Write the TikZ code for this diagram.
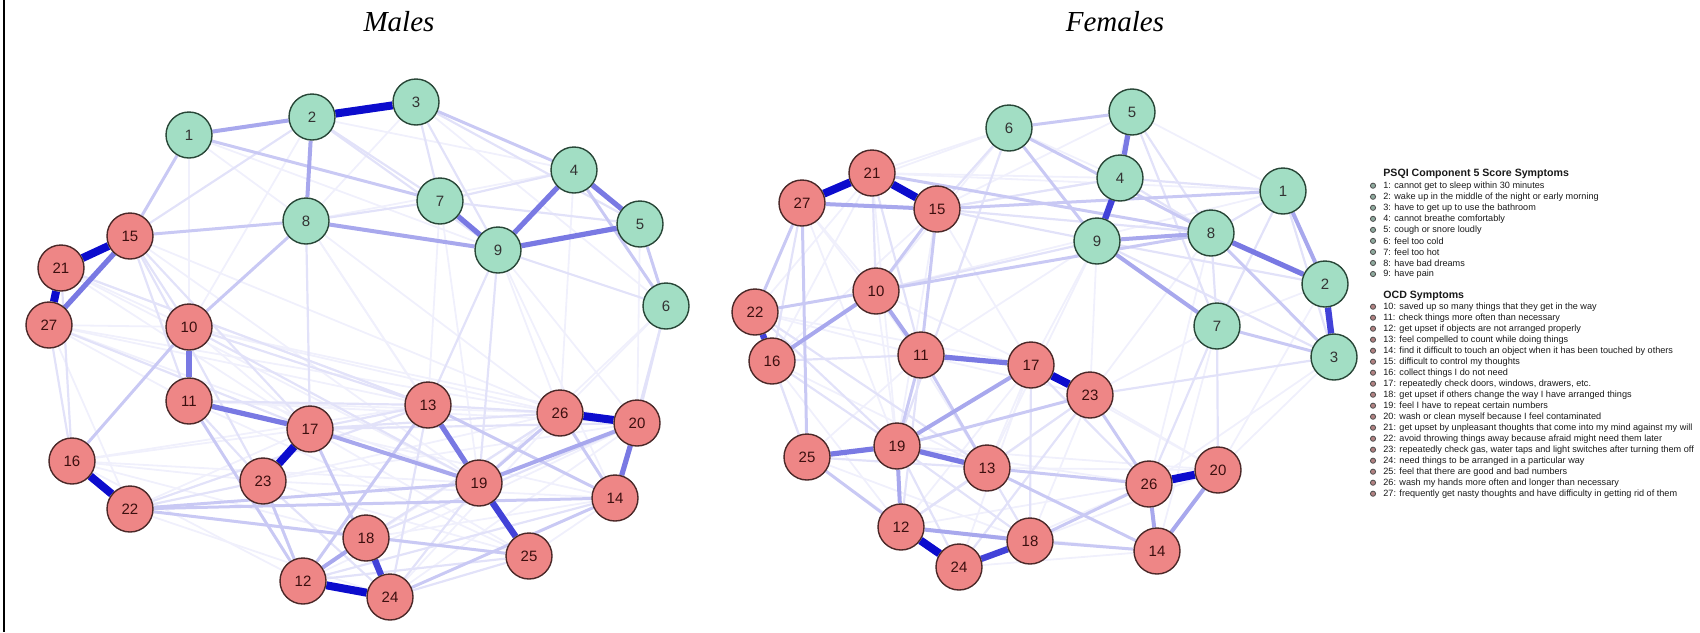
\documentclass[tikz,border=0pt]{standalone}
\usepackage{fontspec}
\setmainfont{Liberation Sans}
\newfontfamily\titlefont{Liberation Serif}
\usetikzlibrary{calc}
\definecolor{psqifill}{RGB}{162,222,196}
\definecolor{psqiline}{RGB}{40,70,55}
\definecolor{ocdfill}{RGB}{238,134,134}
\definecolor{ocdline}{RGB}{75,40,40}
\definecolor{ocdtext}{RGB}{60,15,15}
\definecolor{edgecol}{RGB}{12,12,205}
\pgfdeclarelayer{background}
\pgfsetlayers{background,main}

\begin{document}
\begin{tikzpicture}[x=0.5pt,y=-0.5pt,
    psqi/.style={circle,draw=psqiline,fill=psqifill,line width=0.7pt,minimum size=23pt,inner sep=0pt,text=black!80,font=\fontsize{7.5}{8}\selectfont},
    ocd/.style={circle,draw=ocdline,fill=ocdfill,line width=0.7pt,minimum size=23pt,inner sep=0pt,text=ocdtext,font=\fontsize{7.5}{8}\selectfont},
    w0/.style={line width=0.9pt,edgecol!6!white},
    w1/.style={line width=1.1pt,edgecol!12!white},
    w2/.style={line width=1.5pt,edgecol!22!white},
    w3/.style={line width=2pt,edgecol!36!white},
    w4/.style={line width=2.6pt,edgecol!55!white},
    w5/.style={line width=3.2pt,edgecol!78!white},
    w6/.style={line width=4pt,edgecol},
    title/.style={font=\titlefont\itshape\fontsize{14.5}{17}\selectfont},
    leg/.style={anchor=west,inner sep=0pt,text=black!90,font=\fontsize{4.56}{5}\selectfont},
    leghead/.style={leg,font=\fontsize{5.3}{6}\selectfont\bfseries}]
    \useasboundingbox (0,0) rectangle (1700,632);
    % --- cornice ---
    \draw[line width=1pt] (3.5,0) -- (3.5,632);
    % --- titoli ---
    \node[title] (tm) at (399,22) {Males};
    \node[title] (tf) at (1115,22) {Females};
    % --- rete maschi ---
    \foreach \n/\x/\y in {1/189/135,2/312/117,3/416/102,4/574/170,5/640/224,6/666/306,7/440/201,8/306/221,9/498/250}
        \node[psqi] (m\n) at (\x,\y) {\n};
    \foreach \n/\x/\y in {10/189/327,11/189/401,12/303/581,13/428/405,14/615/498,15/130/236,16/72/461,17/310/429,18/366/538,
        19/479/483,20/637/423,21/61/268,22/130/509,23/263/481,24/390/597,25/529/556,26/560/413,27/49/325}
        \node[ocd] (m\n) at (\x,\y) {\n};
    \begin{pgfonlayer}{background}
        \foreach \a/\b in {1/8,1/9,3/8,3/6,4/8,6/26,6/19,9/20,9/26,10/26,10/20,11/26,16/23,16/12,16/18,21/13,21/17,27/22,27/11,27/19,
            22/18,22/24,23/25,23/14,18/25,18/14,25/14,14/9,5/20,4/26,7/13,7/19,1/10,2/10,22/17,16/17,10/17,27/10,21/10,27/13,27/26,
            21/19,15/26,15/19,16/13,16/19,11/20,11/25,23/20,23/26,17/25,17/14,13/25,12/20,12/26,24/20,24/26,8/13,8/19,8/26,2/4,1/3}
            \draw[w0] (m\a) -- (m\b);
        \foreach \a/\b in {2/15,3/9,3/7,3/5,6/20,6/14,15/10,15/11,7/4,7/5,9/6,13/24,24/25,12/14,2/7,2/9,8/7,15/23,15/17,16/27,16/21,
            11/23,23/22,13/17,13/26,11/13,10/13,17/26,17/20,19/24,12/25,18/20,18/26,23/24,9/19,9/13,8/17,10/19,22/13,27/17,21/13}
            \draw[w1] (m\a) -- (m\b);
        \foreach \a/\b in {1/15,1/7,3/4,8/10,10/16,4/6,5/6,19/26,14/26,11/12,12/23,17/24,8/15,22/19,22/14,13/12,13/14,24/14,22/25}
            \draw[w2] (m\a) -- (m\b);
        \foreach \a/\b in {1/2,2/8,8/9,17/19,12/18,19/20}
            \draw[w3] (m\a) -- (m\b);
        \foreach \a/\b in {13/19,4/5,5/9,4/9,7/9,10/11,11/17,14/20,15/27}
            \draw[w4] (m\a) -- (m\b);
        \foreach \a/\b in {19/25,18/24}
            \draw[w5] (m\a) -- (m\b);
        \foreach \a/\b in {2/3,15/21,21/27,16/22,17/23,26/20,12/24}
            \draw[w6] (m\a) -- (m\b);
    \end{pgfonlayer}
    % --- rete femmine ---
    \foreach \n/\x/\y in {1/1283/191,2/1325/284,3/1334/357,4/1120/178,5/1132/112,6/1009/128,7/1217/326,8/1211/233,9/1097/241}
        \node[psqi] (f\n) at (\x,\y) {\n};
    \foreach \n/\x/\y in {10/876/291,11/921/355,12/901/527,13/987/468,14/1157/551,15/937/209,16/772/361,17/1031/365,18/1030/541,
        19/897/446,20/1218/470,21/872/173,22/755/312,23/1090/395,24/959/567,25/807/457,26/1149/484,27/802/203}
        \node[ocd] (f\n) at (\x,\y) {\n};
    \begin{pgfonlayer}{background}
        \foreach \a/\b in {6/21,6/27,6/10,5/15,5/9,4/15,4/21,1/21,1/10,2/7,2/20,3/20,3/26,7/14,7/23,8/23,8/26,9/11,9/17,9/23,9/13,
            21/16,21/22,21/19,27/10,27/11,27/19,15/16,15/19,15/17,22/25,22/11,22/17,16/13,16/12,10/19,10/17,10/13,11/25,11/23,
            17/13,17/12,17/24,17/20,23/13,23/18,23/20,25/24,25/18,12/14,24/14,24/26,19/26,19/20,13/20,18/20,12/26,5/1,6/4}
            \draw[w0] (f\a) -- (f\b);
        \foreach \a/\b in {16/19,16/25,22/19,22/13,27/16,4/1,4/8,5/8,5/7,1/8,1/3,8/7,9/2,9/3,7/20,7/26,17/18,17/26,23/12,23/24,
            23/3,11/12,13/18,13/12,25/13,19/24,19/18,21/10,21/11,15/8,15/4,16/11,6/19,6/15,27/21,9/10,1/7,15/9}
            \draw[w1] (f\a) -- (f\b);
        \foreach \a/\b in {6/5,6/9,6/8,27/22,15/10,15/11,11/19,19/23,25/12,13/26,13/14,18/14,18/26,23/26,7/3,21/8,15/1,10/8,11/13,
            27/25,22/10,8/3}
            \draw[w2] (f\a) -- (f\b);
        \foreach \a/\b in {1/2,10/11,10/16,12/18,20/14,26/14,9/7,9/8,27/15,12/19,19/17}
            \draw[w3] (f\a) -- (f\b);
        \foreach \a/\b in {4/5,19/25,19/13,8/2,11/17}
            \draw[w4] (f\a) -- (f\b);
        \foreach \a/\b in {22/16,24/18,2/3,4/9}
            \draw[w5] (f\a) -- (f\b);
        \foreach \a/\b in {21/27,21/15,17/23,26/20,12/24}
            \draw[w6] (f\a) -- (f\b);
    \end{pgfonlayer}
    % --- legenda ---
    \node[leghead] (hpsqi) at (1383,174) {PSQI Component 5 Score Symptoms};
    \foreach \n/\t in {1/cannot get to sleep within 30 minutes,2/wake up in the middle of the night or early morning,
        3/have to get up to use the bathroom,4/cannot breathe comfortably,5/cough or snore loudly,6/feel too cold,
        7/feel too hot,8/have bad dreams,9/have pain}{
        \pgfmathsetmacro\ly{185.7+11.04*(\n-1)}
        \filldraw[fill=psqifill!45!gray,draw=black!70,line width=0.4pt] (1373,\ly) circle (2.6);
        \node[leg] (l\n) at (1383,\ly) {\n: \t};
    }
    \node[leghead] (hocd) at (1383,296) {OCD Symptoms};
    \foreach \n/\t in {10/saved up so many things that they get in the way,11/check things more often than necessary,
        12/get upset if objects are not arranged properly,13/feel compelled to count while doing things,
        14/find it difficult to touch an object when it has been touched by others,15/difficult to control my thoughts,
        16/collect things I do not need,17/{repeatedly check doors, windows, drawers, etc.},
        18/get upset if others change the way I have arranged things,19/feel I have to repeat certain numbers,
        20/wash or clean myself because I feel contaminated,
        21/get upset by unpleasant thoughts that come into my mind against my will,
        22/avoid throwing things away because afraid might need them later,
        23/{repeatedly check gas, water taps and light switches after turning them off},
        24/need things to be arranged in a particular way,25/feel that there are good and bad numbers,
        26/wash my hands more often and longer than necessary,
        27/frequently get nasty thoughts and have difficulty in getting rid of them}{
        \pgfmathsetmacro\ly{306.7+11*(\n-10)}
        \filldraw[fill=ocdfill!45!gray,draw=black!70,line width=0.4pt] (1373,\ly) circle (2.6);
        \node[leg] (l\n) at (1383,\ly) {\n: \t};
    }
\end{tikzpicture}
\end{document}
